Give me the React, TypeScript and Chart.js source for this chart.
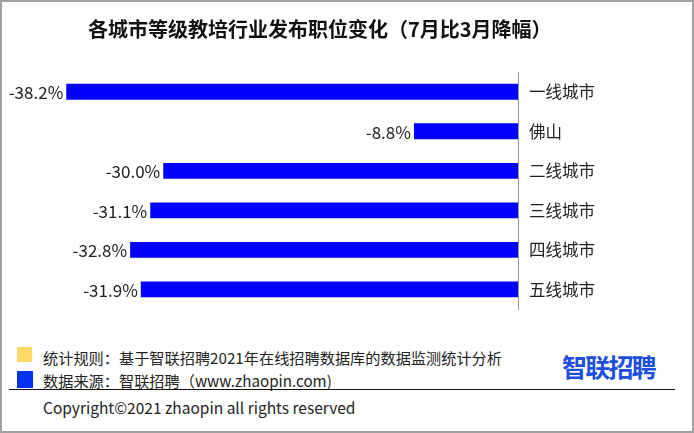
import React, { useEffect, useRef } from "react";
import { Chart, registerables } from "chart.js";

Chart.register(...registerables);

const categories = ["一线城市", "佛山", "二线城市", "三线城市", "四线城市", "五线城市"];
const values = [-38.2, -8.8, -30.0, -31.1, -32.8, -31.9];
const valueLabels = ["-38.2%", "-8.8%", "-30.0%", "-31.1%", "-32.8%", "-31.9%"];

const title = "各城市等级教培行业发布职位变化（7月比3月降幅）";
const note1 = "统计规则：基于智联招聘2021年在线招聘数据库的数据监测统计分析";
const note2 = "数据来源：智联招聘（www.zhaopin.com)";
const copyright = "Copyright©2021 zhaopin all rights reserved";
const logo = "智联招聘";

const FONT = '"Noto Sans CJK SC", "Noto Sans", sans-serif';

const valueLabelPlugin = {
  id: "valueLabels",
  afterDatasetsDraw(chart: any) {
    const ctx = chart.ctx;
    const meta = chart.getDatasetMeta(0);
    ctx.save();
    ctx.font = `17px ${FONT}`;
    ctx.fillStyle = "#222";
    ctx.textAlign = "right";
    ctx.textBaseline = "middle";
    meta.data.forEach((el: any, i: number) => {
      ctx.fillText(valueLabels[i], el.x - 3, el.y + 1);
    });
    ctx.restore();
  },
};

export default function App() {
  const ref = useRef<HTMLCanvasElement | null>(null);

  useEffect(() => {
    if (!ref.current) return;
    const chart = new Chart(ref.current, {
      type: "bar",
      data: {
        labels: categories,
        datasets: [
          {
            data: values,
            backgroundColor: "#0000ff",
            borderWidth: 0,
            categoryPercentage: 1,
            barPercentage: 0.4,
          },
        ],
      },
      options: {
        indexAxis: "y",
        animation: false,
        responsive: false,
        maintainAspectRatio: false,
        layout: { padding: { left: 45, top: 72, bottom: 18, right: 0 } },
        plugins: {
          legend: { display: false },
          title: { display: false },
          tooltip: { enabled: false },
        },
        scales: {
          x: {
            display: false,
            min: -40,
            max: 0,
          },
          y: {
            position: "right",
            grid: { display: false, drawTicks: false },
            border: { display: true, color: "#999", width: 1 },
            ticks: {
              padding: 11,
              color: "#222",
              font: { size: 16.5, family: FONT },
            },
            afterFit(scale: any) {
              scale.width = 176;
            },
          },
        },
      },
      plugins: [valueLabelPlugin],
    } as any);
    return () => chart.destroy();
  }, []);

  return (
    <div
      style={{
        position: "fixed",
        left: 0,
        top: 0,
        width: 694,
        height: 433,
        background: "#fff",
        boxSizing: "border-box",
        border: "2px solid #a0a0a0",
        fontFamily: FONT,
        overflow: "hidden",
      }}
    >
      <canvas
        ref={ref}
        width={694}
        height={330}
        style={{ position: "absolute", left: -2, top: -2, width: 694, height: 330 }}
      />
      <div
        style={{
          position: "absolute",
          left: 86,
          top: 15,
          fontSize: 20,
          lineHeight: "24px",
          fontWeight: 700,
          color: "#111",
          whiteSpace: "nowrap",
        }}
      >
        {title}
      </div>
      <div style={{ position: "absolute", left: 15, top: 345, width: 15, height: 15, background: "#ffd966" }} />
      <div style={{ position: "absolute", left: 15, top: 369, width: 16, height: 17, background: "#0033ee" }} />
      <div
        style={{
          position: "absolute",
          left: 41,
          top: 344,
          fontSize: 15.2,
          lineHeight: "22px",
          color: "#222",
          whiteSpace: "nowrap",
        }}
      >
        {note1}
      </div>
      <div
        style={{
          position: "absolute",
          left: 41,
          top: 367,
          fontSize: 15.2,
          lineHeight: "22px",
          color: "#222",
          whiteSpace: "nowrap",
        }}
      >
        {note2}
      </div>
      <div
        style={{
          position: "absolute",
          left: 7,
          top: 387,
          width: 666,
          height: 0,
          borderTop: "1.5px solid #111",
        }}
      />
      <div
        style={{
          position: "absolute",
          left: 41,
          top: 394,
          fontSize: 15.5,
          lineHeight: "22px",
          color: "#222",
          whiteSpace: "nowrap",
        }}
      >
        {copyright}
      </div>
      <div
        style={{
          position: "absolute",
          left: 560,
          top: 349,
          fontSize: 25,
          lineHeight: "30px",
          fontWeight: 700,
          color: "#1a4fe0",
          letterSpacing: -1.8,
          whiteSpace: "nowrap",
        }}
      >
        {logo}
      </div>
    </div>
  );
}
